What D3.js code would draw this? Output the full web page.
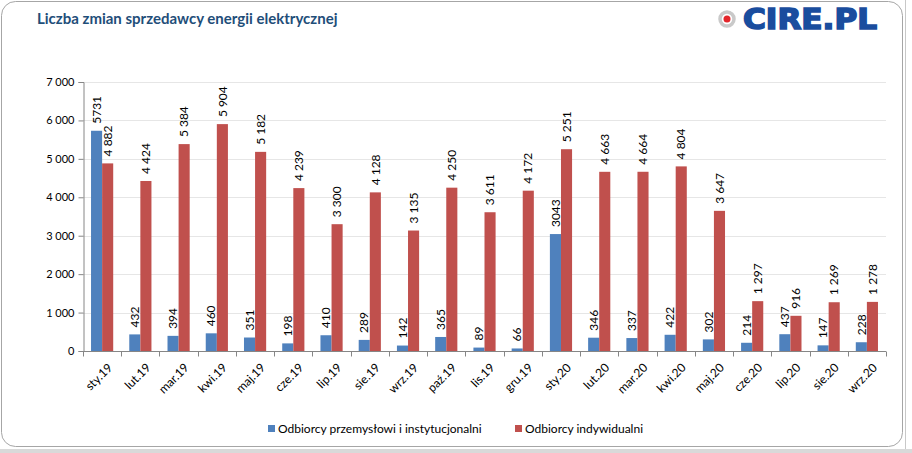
<!DOCTYPE html>
<html>
<head>
<meta charset="utf-8">
<script src="https://cdn.jsdelivr.net/npm/d3@7"></script>
<style>
  body { margin: 0; background: #fff; }
  svg { display: block; font-family: Lato, "Open Sans", sans-serif; }
</style>
</head>
<body>
<script>
var months = ["sty.19","lut.19","mar.19","kwi.19","maj.19","cze.19","lip.19","sie.19","wrz.19","paź.19","lis.19","gru.19",
              "sty.20","lut.20","mar.20","kwi.20","maj.20","cze.20","lip.20","sie.20","wrz.20"];
var przemyslowi = [5731,432,394,460,351,198,410,289,142,365,89,66,3043,346,337,422,302,214,437,147,228];
var indywidualni = [4882,4424,5384,5904,5182,4239,3300,4128,3135,4250,3611,4172,5251,4663,4664,4804,3647,1297,916,1269,1278];
var seriesNames = ["Odbiorcy przemysłowi i instytucjonalni","Odbiorcy indywidualni"];
var yTicks = [0,1000,2000,3000,4000,5000,6000,7000];

var colors = ["#4F81BD","#C0504D"];
var totalWidth = 912, totalHeight = 453;
var margin = {top:82, left:83, right:26, bottom:102};
var width = totalWidth - margin.left - margin.right;
var height = totalHeight - margin.top - margin.bottom;

var pl = d3.formatLocale({decimal:",", thousands:" ", grouping:[3], currency:["","zł"]});
var fmtSpace = pl.format(",d");
var fmtPlain = d3.format("d");

var svg = d3.select("body").append("svg")
    .attr("width", totalWidth)
    .attr("height", totalHeight);

// frame
svg.append("rect").attr("x",0).attr("y",449).attr("width",totalWidth).attr("height",4).attr("fill","#d9d9d9");
svg.append("line").attr("x1",905.5).attr("x2",905.5).attr("y1",0).attr("y2",449).attr("stroke","#c8c8c8");
svg.append("rect")
    .attr("x",1.5).attr("y",1.5).attr("width",901).attr("height",445)
    .attr("rx",14).attr("fill","#fff").attr("stroke","#a6a6a6");

// title
svg.append("text")
    .attr("x",37).attr("y",24)
    .attr("fill","#1F4E79")
    .style("font-size","15px").style("font-weight","bold")
    .text("Liczba zmian sprzedawcy energii elektrycznej");

// logo
var logo = svg.append("g").attr("transform","translate(727,19)");
logo.append("circle").attr("r",7).attr("fill","none").attr("stroke","#c9c9c9").attr("stroke-width",3.5);
logo.append("circle").attr("r",3.5).attr("fill","#e3262b");
logo.append("text").attr("x",16).attr("y",10)
    .attr("fill","#1a4d9e").attr("stroke","#1a4d9e").attr("stroke-width",1.6)
    .attr("textLength",134).attr("lengthAdjust","spacingAndGlyphs")
    .style("font-family","'DejaVu Sans', 'Liberation Sans', sans-serif")
    .style("font-size","28px").style("font-weight","bold")
    .text("CIRE.PL");

var g = svg.append("g").attr("transform","translate("+margin.left+","+margin.top+")");

var x0 = d3.scaleBand().domain(months).range([0,width]).paddingInner(0.42).paddingOuter(0.21);
var x1 = d3.scaleBand().domain([0,1]).range([0,x0.bandwidth()]);
var y = d3.scaleLinear().domain([0,7000]).range([height,0]);

// grid
g.selectAll("line.grid").data(yTicks.slice(1)).enter().append("line")
    .attr("class","grid")
    .attr("x1",0).attr("x2",width)
    .attr("y1",function(d){return Math.round(y(d))+0.5;})
    .attr("y2",function(d){return Math.round(y(d))+0.5;})
    .attr("stroke","#e6e6e6");

// y axis
var yAxisGroup = g.append("g").attr("transform","translate(0.5,0)");
var yAxis = d3.axisLeft(y).tickValues(yTicks).tickSize(5).tickPadding(4).tickFormat(fmtSpace);
yAxis(yAxisGroup);
yAxisGroup.select(".domain").attr("stroke","#868686");
yAxisGroup.selectAll(".tick line").attr("stroke","#868686");
yAxisGroup.selectAll("text").attr("fill","#000").style("font-size","11px").style("font-family","Lato, sans-serif");

// bars
var data = months.map(function(m,i){ return {m:m, v:[przemyslowi[i], indywidualni[i]]}; });
var groups = g.selectAll("g.month").data(data).enter().append("g")
    .attr("transform",function(d){return "translate("+x0(d.m)+",0)";});

groups.selectAll("rect").data(function(d){return d.v;}).enter().append("rect")
    .attr("x",function(d,i){return x1(i);})
    .attr("width",x1.bandwidth())
    .attr("y",function(d){return y(d);})
    .attr("height",function(d){return height - y(d);})
    .attr("fill",function(d,i){return colors[i];});

groups.selectAll("text.val").data(function(d){return d.v;}).enter().append("text")
    .attr("class","val")
    .attr("transform",function(d,i){
        return "translate("+(x1(i)+x1.bandwidth()/2)+","+(y(d)-7)+") rotate(-90)";
    })
    .attr("dy","0.35em")
    .attr("fill","#000")
    .style("font-size","12px")
    .text(function(d,i){return i===0 ? fmtPlain(d) : fmtSpace(d);});

// x axis
var xAxisGroup = g.append("g").attr("transform","translate(0,"+(height+0.5)+")");
xAxisGroup.append("line").attr("x1",0).attr("x2",width).attr("stroke","#868686");
var bounds = d3.range(months.length+1).map(function(i){return i*width/months.length;});
xAxisGroup.selectAll("line.tk").data(bounds).enter().append("line")
    .attr("class","tk")
    .attr("x1",function(d){return Math.round(d)+0.5;}).attr("x2",function(d){return Math.round(d)+0.5;})
    .attr("y1",0).attr("y2",5).attr("stroke","#868686");
xAxisGroup.selectAll("text").data(months).enter().append("text")
    .attr("transform",function(d){return "translate("+(x0(d)+x0.bandwidth()/2+5)+",11) rotate(-45)";})
    .attr("text-anchor","end")
    .attr("dy","0.7em")
    .attr("fill","#000")
    .style("font-size","12px")
    .text(function(d){return d;});

// legend
var legendX = [268, 515];
var legend = svg.selectAll("g.legend").data(seriesNames).enter().append("g")
    .attr("transform",function(d,i){return "translate("+legendX[i]+",429)";});
legend.append("rect").attr("x",0).attr("y",-4).attr("width",7).attr("height",7)
    .attr("fill",function(d,i){return colors[i];});
legend.append("text").attr("x",10).attr("y",0).attr("dy","0.35em")
    .attr("fill","#000").style("font-size","12px")
    .text(function(d){return d;});
</script>
</body>
</html>
